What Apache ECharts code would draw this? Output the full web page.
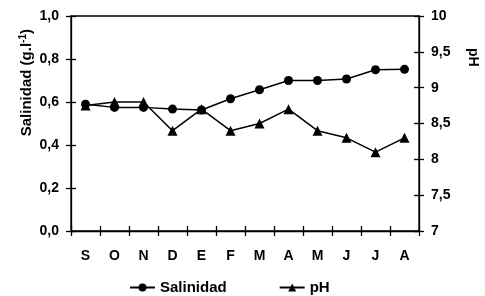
<!DOCTYPE html>
<html><head><meta charset="utf-8">
<script src="https://cdn.jsdelivr.net/npm/echarts@6/dist/echarts.min.js"></script>
<style>html,body{margin:0;padding:0;background:#fff}#c{width:485px;height:296px}</style>
</head><body><div id="c"></div>
<script>
const categories = ['S','O','N','D','E','F','M','A','M','J','J','A'];
const salinidad = [0.59,0.575,0.575,0.567,0.563,0.615,0.657,0.70,0.70,0.707,0.75,0.752];
const pH = [8.75,8.8,8.8,8.4,8.7,8.4,8.5,8.7,8.4,8.3,8.1,8.3];
const leftTicks = [0,0.2,0.4,0.6,0.8,1.0];
const rightTicks = [7,7.5,8,8.5,9,9.5,10];

const FONT = '"Liberation Sans", Arial, sans-serif';
const lbl = {fontFamily: FONT, fontWeight: 'bold', fontSize: 14, color: '#000'};
const chart = echarts.init(document.getElementById('c'));
const fmtL = v => v.toFixed(1).replace('.', ',');
const fmtR = v => String(v).replace('.', ',');
const line = {show: true, lineStyle: {color: '#000', width: 1.3}};
chart.setOption({
  animation: false,
  grid: {left: 71, right: 66, top: 16, bottom: 65, show: true, borderColor: '#000', borderWidth: 1.3},
  legend: {
    top: 280, left: 129, itemGap: 52, itemWidth: 25, itemHeight: 10, padding: 0,
    textStyle: Object.assign({}, lbl, {fontSize: 15}),
    data: ['Salinidad', 'pH']
  },
  xAxis: [
    {type: 'category', data: categories, boundaryGap: true, position: 'bottom',
     axisLine: line, axisTick: {show: true, length: 5, lineStyle: {color: '#000', width: 1.3}},
     axisLabel: Object.assign({}, lbl, {margin: 18}), splitLine: {show: false}},
    {type: 'category', data: categories, boundaryGap: true, position: 'bottom',
     axisLine: {show: false}, axisTick: {show: true, inside: true, length: 5, lineStyle: {color: '#000', width: 1.3}},
     axisLabel: {show: false}, splitLine: {show: false}}
  ],
  yAxis: [
    {type: 'value', min: 0, max: 1, interval: 0.2, position: 'left',
     axisLine: line, axisTick: {show: true, length: 5, lineStyle: {color: '#000', width: 1.3}},
     axisLabel: Object.assign({}, lbl, {margin: 12, formatter: fmtL}), splitLine: {show: false}},
    {type: 'value', min: 7, max: 10, interval: 0.5, position: 'right',
     axisLine: line, axisTick: {show: true, length: 5, lineStyle: {color: '#000', width: 1.3}},
     axisLabel: Object.assign({}, lbl, {margin: 12, formatter: fmtR}), splitLine: {show: false}},
    {type: 'value', min: 0, max: 1, interval: 0.2, position: 'left',
     axisLine: {show: false}, axisTick: {show: true, inside: true, length: 5, lineStyle: {color: '#000', width: 1.3}},
     axisLabel: {show: false}, splitLine: {show: false}},
    {type: 'value', min: 7, max: 10, interval: 0.5, position: 'right',
     axisLine: {show: false}, axisTick: {show: true, inside: true, length: 5, lineStyle: {color: '#000', width: 1.3}},
     axisLabel: {show: false}, splitLine: {show: false}}
  ],
  graphic: [
    {type: 'text', left: 18, top: 29, rotation: Math.PI / 2,
     style: {text: 'Salinidad (g.l{sup|-1})', rich: {sup: {fontFamily: FONT, fontWeight: 'bold', fontSize: 10, verticalAlign: 'top', padding: [0,0,7,0]}},
             fontFamily: FONT, fontWeight: 'bold', fontSize: 15, fill: '#000'}},
    {type: 'text', left: 466, top: 48, rotation: -Math.PI / 2,
     style: {text: 'pH', fontFamily: FONT, fontWeight: 'bold', fontSize: 14, fill: '#000'}}
  ],
  series: [
    {name: 'Salinidad', type: 'line', data: salinidad, xAxisIndex: 0, yAxisIndex: 0,
     symbol: 'circle', symbolSize: 9, itemStyle: {color: '#000'}, lineStyle: {color: '#000', width: 1.5}},
    {name: 'pH', type: 'line', data: pH, xAxisIndex: 0, yAxisIndex: 1,
     symbol: 'triangle', symbolSize: 10, itemStyle: {color: '#000'}, lineStyle: {color: '#000', width: 1.5}}
  ]
});
</script></body></html>
